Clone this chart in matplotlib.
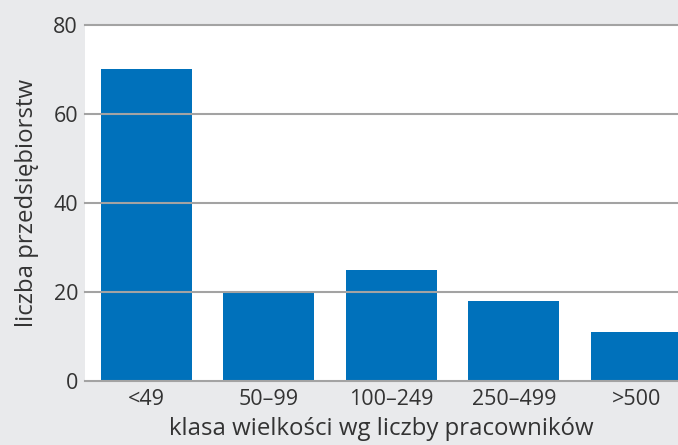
import matplotlib.pyplot as plt
import numpy as np

categories = ["<49", "50\u201399", "100\u2013249", "250\u2013499", ">500"]
counts = [70, 20, 25, 18, 11]
y_ticks = [0, 20, 40, 60, 80]

plt.rcParams['font.family'] = ['Open Sans', 'DejaVu Sans']

bg = '#e9eaec'
bar_color = '#0071bb'
grid_color = '#a3a3a3'
text_color = '#333333'

fig = plt.figure(figsize=(6.78, 4.45), dpi=100, facecolor=bg)
ax = fig.add_axes([85 / 678, 64 / 445, 593 / 678, 356 / 445])
ax.set_facecolor('white')

x = np.arange(len(categories))
ax.bar(x, counts, width=0.745, color=bar_color, zorder=2)

ax.set_ylim(0, 80)
ax.set_xlim(-0.5, 4.34)
ax.set_yticks(y_ticks)
ax.set_xticks(x)
ax.set_xticklabels(categories)

for y in y_ticks:
    ax.axhline(y, color=grid_color, lw=1.5, zorder=3, clip_on=False)

for s in ax.spines.values():
    s.set_visible(False)

ax.tick_params(axis='both', length=0, labelsize=15.5, colors=text_color)
ax.tick_params(axis='y', pad=5)
ax.tick_params(axis='x', pad=6)

ax.set_xlabel("klasa wielkości wg liczby pracowników", fontsize=17.3,
              color=text_color, labelpad=5)
ax.set_ylabel("liczba przedsiębiorstw", fontsize=17.3, color=text_color,
              labelpad=10)

fig.savefig("out.png", dpi=100, facecolor=bg)
